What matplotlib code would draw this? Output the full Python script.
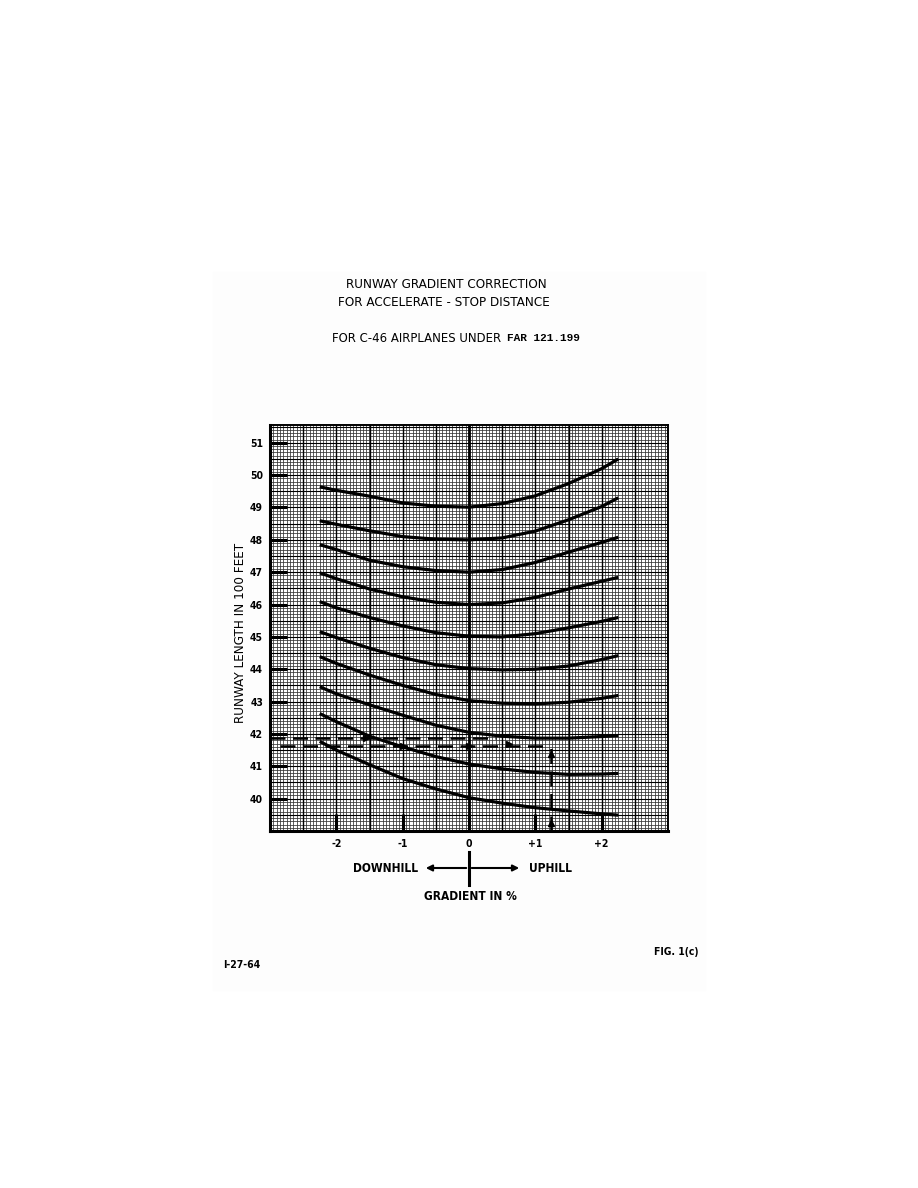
import numpy as np
import matplotlib.pyplot as plt
from matplotlib.lines import Line2D
from matplotlib.patches import Rectangle, FancyArrowPatch

plt.rcParams['font.family'] = ['DejaVu Sans']
plt.rcParams['font.stretch'] = 'condensed'

# gradient (%) at which each curve was read
gradient = [-2.25, -2.0, -1.5, -1.0, -0.5, 0.0, 0.5, 1.0, 1.5, 2.0, 2.25]

# runway length (100 ft) for each curve, labelled by its value at 0 % gradient
curves = {
    49: [49.64, 49.53, 49.35, 49.14, 49.04, 49.01, 49.12, 49.36, 49.74, 50.20, 50.50],
    48: [48.59, 48.48, 48.28, 48.10, 48.02, 48.00, 48.06, 48.27, 48.62, 49.03, 49.30],
    47: [47.85, 47.70, 47.37, 47.17, 47.05, 47.00, 47.08, 47.30, 47.62, 47.92, 48.08],
    46: [46.98, 46.80, 46.48, 46.24, 46.07, 46.00, 46.05, 46.22, 46.48, 46.72, 46.84],
    45: [46.09, 45.90, 45.60, 45.34, 45.13, 45.02, 45.00, 45.10, 45.28, 45.48, 45.60],
    44: [45.16, 44.98, 44.65, 44.36, 44.14, 44.02, 43.98, 44.00, 44.10, 44.30, 44.42],
    43: [44.39, 44.18, 43.82, 43.50, 43.22, 43.03, 42.95, 42.93, 42.98, 43.10, 43.19],
    42: [43.46, 43.24, 42.90, 42.58, 42.27, 42.05, 41.93, 41.87, 41.87, 41.92, 41.95],
    41: [42.63, 42.38, 41.93, 41.60, 41.30, 41.07, 40.92, 40.81, 40.75, 40.76, 40.78],
    40: [41.77, 41.50, 41.05, 40.62, 40.30, 40.03, 39.86, 39.72, 39.62, 39.53, 39.49],
}

# example lines drawn on the chart
example_upper = {'x': [-3.0, 0.4], 'y': 41.88}
example_lower = {'x': [-2.85, 1.15], 'y': 41.64}
example_vert = {'x': 1.24, 'y': [39.0, 41.64]}
arrows_right = [(-1.55, 41.88), (-1.0, 41.64), (0.0, 41.64), (0.6, 41.68)]
arrows_up = [(1.24, 41.38), (1.24, 39.25)]

x_ticks = [-2, -1, 0, 1, 2]
x_labels = ['-2', '-1', '0', '+1', '+2']
y_ticks = list(range(40, 52))

W, H = 918, 1188
fig = plt.figure(figsize=(W / 100, H / 100), dpi=100)

def fx(px):
    return px / W

def fy(py):
    return 1 - py / H

# faint scanned page
fig.patches.append(Rectangle((fx(213), fy(990)), fx(705) - fx(213), fy(272) - fy(990),
                             transform=fig.transFigure, color='#fdfdfd', zorder=-10))

ax = fig.add_axes([fx(270), fy(831), fx(668) - fx(270), fy(425) - fy(831)])
ax.set_zorder(5)
ax.set_xlim(-3, 3)
ax.set_ylim(39.0, 51.55)

# graph paper
for xv in np.arange(-3, 3.001, 0.05):
    ax.axvline(xv, color='0.2', lw=0.55, zorder=1)
for yv in np.arange(39.0, 51.56, 0.1):
    ax.axhline(yv, color='0.2', lw=0.55, zorder=1)
for xv in np.arange(-3, 3.001, 0.5):
    ax.axvline(xv, color='0.0', lw=1.0, zorder=1)
for yv in np.arange(39.5, 51.56, 0.5):
    ax.axhline(yv, color='0.0', lw=0.8, zorder=1)
ax.axvline(0, color='black', lw=2.0, zorder=2)

for key, vals in curves.items():
    ax.plot(gradient, vals, color='black', lw=2.3, solid_capstyle='butt', zorder=3)

dash = dict(color='black', lw=1.8, ls=(0, (6, 3)), zorder=3)
ax.plot(example_upper['x'], [example_upper['y']] * 2, **dash)
ax.plot(example_lower['x'], [example_lower['y']] * 2, **dash)
ax.plot([example_vert['x']] * 2, example_vert['y'], **dash)
for xa, ya in arrows_right:
    ax.plot(xa, ya, marker='>', color='black', ms=5, zorder=4)
for xa, ya in arrows_up:
    ax.plot(xa, ya, marker='^', color='black', ms=5, zorder=4)

ax.set_xticks(x_ticks)
ax.set_xticklabels(x_labels)
ax.set_yticks(y_ticks)
ax.tick_params(axis='both', direction='in', length=12, width=2.2, labelsize=7.5, pad=6)
for lab in ax.get_xticklabels() + ax.get_yticklabels():
    lab.set_fontweight('bold')
ax.tick_params(axis='y', pad=5)
for side in ['left', 'bottom']:
    ax.spines[side].set_linewidth(2.2)
for side in ['top', 'right']:
    ax.spines[side].set_linewidth(1.4)

fig.text(fx(240), fy(633), 'RUNWAY LENGTH IN 100 FEET', rotation=90, ha='center', va='center',
         fontsize=9.6)

# titles
fig.text(fx(446), fy(284), 'RUNWAY GRADIENT CORRECTION', ha='center', va='center', fontsize=9.6)
fig.text(fx(444), fy(302), 'FOR ACCELERATE - STOP DISTANCE', ha='center', va='center', fontsize=9.6)
fig.text(fx(332), fy(338), 'FOR C-46 AIRPLANES UNDER', ha='left', va='center', fontsize=9.4)
fig.text(fx(580), fy(338), 'FAR 121.199', ha='right', va='center', fontsize=8,
         family=['Liberation Mono', 'DejaVu Sans Mono'], fontweight='bold')

# direction legend under the axis
fig.text(fx(418), fy(868), 'DOWNHILL', ha='right', va='center', fontsize=8.6, fontweight='bold')
fig.text(fx(529), fy(868), 'UPHILL', ha='left', va='center', fontsize=8.6, fontweight='bold')
fig.text(fx(470), fy(897), 'GRADIENT IN %', ha='center', va='center', fontsize=8.6, fontweight='bold')
fig.add_artist(Line2D([fx(469), fx(469)], [fy(852), fy(885)], color='black', lw=2.2,
                      transform=fig.transFigure))
fig.patches.append(FancyArrowPatch((fx(469), fy(868)), (fx(423), fy(868)),
                                   transform=fig.transFigure, arrowstyle='-|>',
                                   mutation_scale=9, color='black', lw=1.5))
fig.patches.append(FancyArrowPatch((fx(469), fy(868)), (fx(522), fy(868)),
                                   transform=fig.transFigure, arrowstyle='-|>',
                                   mutation_scale=9, color='black', lw=1.5))

fig.text(fx(223), fy(965), 'I-27-64', ha='left', va='center', fontsize=7.5, fontweight='bold')
fig.text(fx(698), fy(952), 'FIG. 1(c)', ha='right', va='center', fontsize=7.5, fontweight='bold')

fig.savefig('out.png', dpi=100)
